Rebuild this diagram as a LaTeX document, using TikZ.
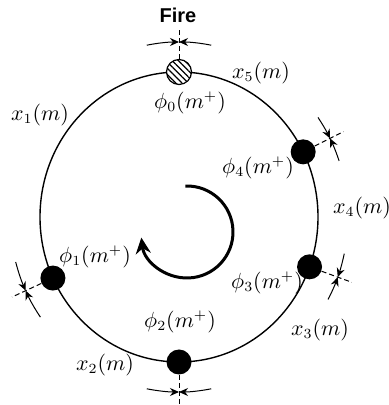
\documentclass[tikz,border=0pt]{standalone}
\usepackage{fontspec}
\newfontfamily\firefont{Liberation Sans}
\usetikzlibrary{arrows.meta, patterns.meta}

\begin{document}
\begin{tikzpicture}[x=0.5pt, y=0.5pt, >={Stealth[length=4.5pt, width=4pt]},
  dot/.style={circle, fill, inner sep=0pt, minimum size=12.5pt},
  lbl/.style={font=\fontsize{10.5}{12}\selectfont, inner sep=0pt},
  gap/.style={line width=0.5pt, ->},
  ray/.style={line width=0.5pt, dash pattern=on 2.5pt off 1.5pt}]
  \useasboundingbox (0,0) rectangle (388,405);
  \coordinate (C) at (179,188);
  \coordinate (R) at (187,173);
  % track of the loop
  \draw[line width=0.7pt] (C) ellipse [x radius=139, y radius=145];
  \node[circle, draw, line width=0.6pt, inner sep=0pt, minimum size=12.5pt,
        preaction={fill=white}, pattern={Lines[angle=-45, distance=2.2pt, line width=0.6pt]}]
        (f0) at ([shift={(90:139 and 145)}]C) {};
  \node[dot] (d1) at ([shift={(204.9:139 and 145)}]C) {};
  \node[dot] (d2) at ([shift={(270:139 and 145)}]C) {};
  \node[dot] (d3) at ([shift={(-20.1:139 and 145)}]C) {};
  \node[dot] (d4) at ([shift={(26.7:139 and 145)}]C) {};
  % radial marks with converging arrows
  \coordinate (m0) at ([shift={(90:184 and 190)}]C);
  \coordinate (m1) at ([shift={(204.9:184 and 190)}]C);
  \coordinate (m2) at ([shift={(270:184 and 190)}]C);
  \coordinate (m3) at ([shift={(-20.1:184 and 190)}]C);
  \coordinate (m4) at ([shift={(26.7:184 and 190)}]C);
  \draw[ray] (f0) -- (m0);
  \draw[ray] (d1) -- (m1);
  \draw[ray] (d2) -- (m2);
  \draw[ray] (d3) -- (m3);
  \draw[ray] (d4) -- (m4);
  \draw[gap] (C) ++(101:169 and 175) arc[start angle=101, end angle=90, x radius=169, y radius=175];
  \draw[gap] (C) ++(79:169 and 175) arc[start angle=79, end angle=90, x radius=169, y radius=175];
  \draw[gap] (C) ++(214.9:169 and 175) arc[start angle=214.9, end angle=204.9, x radius=169, y radius=175];
  \draw[gap] (C) ++(194.9:169 and 175) arc[start angle=194.9, end angle=204.9, x radius=169, y radius=175];
  \draw[gap] (C) ++(281:169 and 175) arc[start angle=281, end angle=270, x radius=169, y radius=175];
  \draw[gap] (C) ++(259:169 and 175) arc[start angle=259, end angle=270, x radius=169, y radius=175];
  \draw[gap] (C) ++(-12.1:169 and 175) arc[start angle=-12.1, end angle=-20.1, x radius=169, y radius=175];
  \draw[gap] (C) ++(-28.1:169 and 175) arc[start angle=-28.1, end angle=-20.1, x radius=169, y radius=175];
  \draw[gap] (C) ++(34.7:169 and 175) arc[start angle=34.7, end angle=26.7, x radius=169, y radius=175];
  \draw[gap] (C) ++(18.7:169 and 175) arc[start angle=18.7, end angle=26.7, x radius=169, y radius=175];
  % direction of travel
  \draw[line width=1.5pt, -{Stealth[length=8pt, width=7.5pt]}] (R) ++(92:46)
    arc[start angle=92, end angle=-173, radius=46];
  % labels
  \node[font=\firefont\bfseries\fontsize{10}{12}\selectfont, inner sep=0pt] (fire) at (178,390) {Fire};
  \node[lbl] (p0) at (190,302) {$\phi_0(m^+)$};
  \node[lbl] (p1) at (95,148) {$\phi_1(m^+)$};
  \node[lbl] (p2) at (180,83) {$\phi_2(m^+)$};
  \node[lbl] (p3) at (267,122) {$\phi_3(m^+)$};
  \node[lbl] (p4) at (258,237) {$\phi_4(m^+)$};
  \node[lbl] (x1) at (40,290) {$x_1(m)$};
  \node[lbl] (x2) at (105,40) {$x_2(m)$};
  \node[lbl] (x3) at (320,75) {$x_3(m)$};
  \node[lbl] (x4) at (362,197) {$x_4(m)$};
  \node[lbl] (x5) at (261,332) {$x_5(m)$};
\end{tikzpicture}
\end{document}
